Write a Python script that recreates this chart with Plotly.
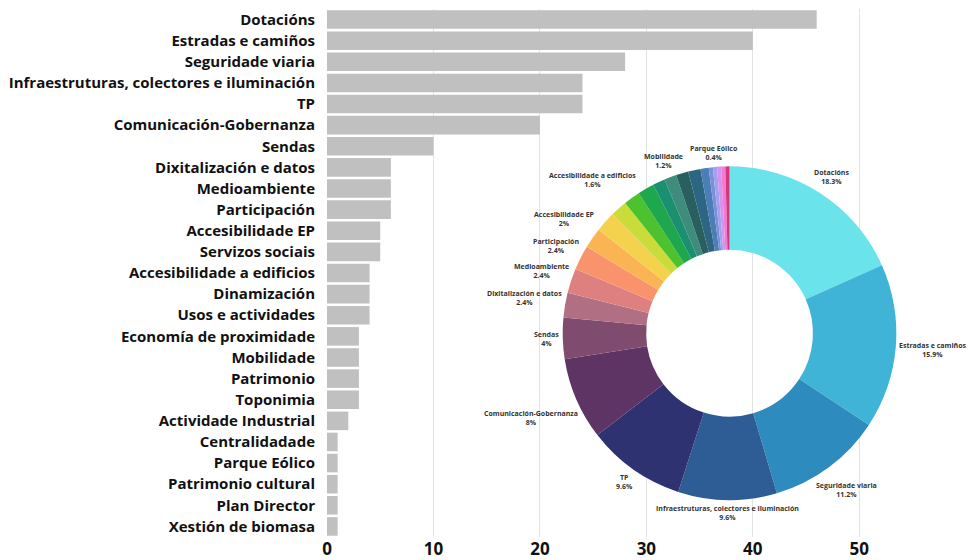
import math
import plotly.graph_objects as go

# Proposals per theme
categories = [
    "Dotacións", "Estradas e camiños", "Seguridade viaria",
    "Infraestruturas, colectores e iluminación", "TP", "Comunicación-Gobernanza",
    "Sendas", "Dixitalización e datos", "Medioambiente", "Participación",
    "Accesibilidade EP", "Servizos sociais", "Accesibilidade a edificios",
    "Dinamización", "Usos e actividades", "Economía de proximidade",
    "Mobilidade", "Patrimonio", "Toponimia", "Actividade Industrial",
    "Centralidadade", "Parque Eólico", "Patrimonio cultural", "Plan Director",
    "Xestión de biomasa",
]
counts = [46, 40, 28, 24, 24, 20, 10, 6, 6, 6, 5, 5, 4, 4, 4, 3, 3, 3, 3, 2,
          1, 1, 1, 1, 1]

slice_colors = [
    "#6ae3ea", "#40b4d7", "#2e8bbd", "#2e5d95", "#2e3270", "#5d3463",
    "#7f4b6f", "#b06f82", "#df8080", "#f9936c", "#fbb454", "#f4d24e",
    "#c9dc3a", "#4cc22f", "#1ea74c", "#1a9070", "#3e8c7c", "#2a5f5f",
    "#2c6683", "#4b7db6", "#7d8fd6", "#a1a2ee", "#d693ee", "#f07bd2",
    "#d8347c",
]

# Slices that carry an outside label
labelled = [
    "Dotacións", "Estradas e camiños", "Seguridade viaria",
    "Infraestruturas, colectores e iluminación", "TP", "Comunicación-Gobernanza",
    "Sendas", "Dixitalización e datos", "Medioambiente", "Participación",
    "Accesibilidade EP", "Accesibilidade a edificios", "Mobilidade",
    "Parque Eólico",
]

W, H = 970, 560
M_L, M_R, M_T, M_B = 327, 0, 9, 20
PW, PH = W - M_L - M_R, H - M_T - M_B

FONT = "Open Sans"
LABEL_SIZE = 7

# Approximate advance widths (em) of the bold face, used to place labels
_ADV = {
    "a": .587, "b": .627, "c": .505, "d": .627, "e": .597, "f": .401,
    "g": .556, "h": .655, "i": .305, "j": .305, "k": .6, "l": .305,
    "m": .994, "n": .655, "o": .617, "p": .627, "q": .627, "r": .452,
    "s": .498, "t": .434, "u": .655, "v": .568, "w": .862, "x": .578,
    "y": .568, "z": .486, " ": .26, ".": .286, ",": .286, "-": .322,
    "%": .87, "í": .305, "ó": .617, "ñ": .655, "é": .597, "á": .587,
}


def text_width(s, size):
    w = 0.0
    for ch in s:
        if ch in _ADV:
            w += _ADV[ch]
        elif ch.isdigit():
            w += .572
        elif ch.isupper():
            w += .68
        else:
            w += .6
    return w * size


fig = go.Figure()

fig.add_trace(go.Bar(
    x=counts, y=categories, orientation="h",
    marker=dict(color="#c0c0c0", line=dict(width=0)),
    hoverinfo="x+y", showlegend=False,
))

# Donut geometry (in plot-area fractions)
pie_dom_x = [0.365, 0.887]
pie_dom_y = [0.070, 0.702]

fig.add_trace(go.Pie(
    labels=categories, values=counts,
    marker=dict(colors=slice_colors, line=dict(width=0)),
    hole=0.5, sort=False, direction="clockwise", rotation=0,
    textinfo="none", showlegend=False,
    domain=dict(x=pie_dom_x, y=pie_dom_y),
))

# Outside labels: each label box touches the ring just beyond its slice mid-angle
total = sum(counts)
cx = (pie_dom_x[0] + pie_dom_x[1]) / 2 * PW
cy = (pie_dom_y[0] + pie_dom_y[1]) / 2 * PH
radius = (pie_dom_x[1] - pie_dom_x[0]) / 2 * PW
edge_r = radius + 2
line_h = 10
cum = 0
annotations = []
for name, v in zip(categories, counts):
    mid = (cum + v / 2) / total * 2 * math.pi
    cum += v
    if name not in labelled:
        continue
    pct = round(v / total * 100, 1)
    pct_txt = f"{pct:g}%"
    bw = max(text_width(name, LABEL_SIZE), text_width(pct_txt, LABEL_SIZE))
    bh = 2 * line_h
    s, c = math.sin(mid), math.cos(mid)
    dist = edge_r + abs(s) * bw / 2 + abs(c) * bh / 2
    px = cx + dist * s
    py = cy + dist * c
    annotations.append(dict(
        x=px / PW, y=py / PH, xref="paper", yref="paper",
        text=f"<b>{name}</b><br><b>{pct_txt}</b>",
        showarrow=False, xanchor="center", yanchor="middle",
        font=dict(family=FONT, size=LABEL_SIZE, color="#333333"),
        align="center",
    ))

fig.update_layout(
    width=W, height=H,
    margin=dict(l=M_L, r=M_R, t=M_T, b=M_B),
    paper_bgcolor="white", plot_bgcolor="white",
    bargap=0.12,
    font=dict(family=FONT, color="#111111"),
    annotations=annotations,
    xaxis=dict(
        range=[0, 60.4], tickvals=[0, 10, 20, 30, 40, 50],
        showgrid=True, gridcolor="#e3e3e3", gridwidth=1,
        zeroline=False, showline=False,
        tickfont=dict(family=FONT, size=17, color="#111111", weight=700),
        ticks="", fixedrange=True,
    ),
    yaxis=dict(
        autorange="reversed", showgrid=False, zeroline=False, showline=False,
        ticks="outside", ticklen=8, tickcolor="rgba(0,0,0,0)",
        tickfont=dict(family=FONT, size=15, color="#111111", weight=700),
        fixedrange=True,
    ),
)

fig.write_html("out.html")
